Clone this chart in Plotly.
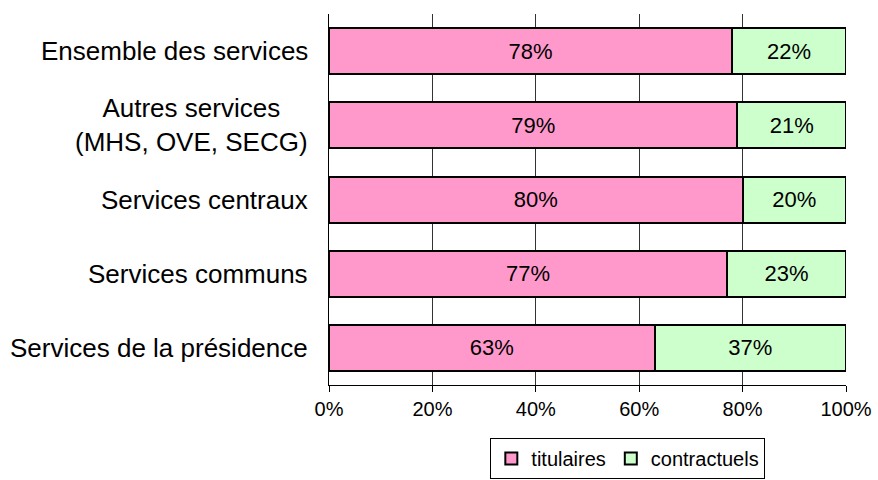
import plotly.graph_objects as go

categories = ["Ensemble des services", "Autres services<br>(MHS, OVE, SECG)",
              "Services centraux", "Services communs", "Services de la présidence"]
titulaires = [78, 79, 80, 77, 63]
contractuels = [22, 21, 20, 23, 37]
x_ticks = [0, 20, 40, 60, 80, 100]
x_tick_labels = ["0%", "20%", "40%", "60%", "80%", "100%"]

FONT = "Liberation Sans, Arial, sans-serif"

fig = go.Figure()
fig.add_trace(go.Bar(
    y=categories, x=titulaires, orientation="h", name="titulaires",
    marker=dict(color="#FF99CC", line=dict(color="black", width=2)),
    text=[f"{v}%" for v in titulaires], textposition="inside",
    insidetextanchor="middle", textfont=dict(size=22, color="black", family=FONT),
    hoverinfo="skip",
))
fig.add_trace(go.Bar(
    y=categories, x=contractuels, orientation="h", name="contractuels",
    marker=dict(color="#CCFFCC", line=dict(color="black", width=2)),
    text=[f"{v}%" for v in contractuels], textposition="inside",
    insidetextanchor="middle", textfont=dict(size=22, color="black", family=FONT),
    hoverinfo="skip",
))

annotations = [
    dict(x=0, xref="paper", y=c, yref="y", text=c, showarrow=False,
         xanchor="right", align="center", xshift=-19,
         font=dict(size=26, color="black", family=FONT))
    for c in categories
]

fig.update_layout(
    width=878, height=480,
    barmode="stack", bargap=0.38,
    margin=dict(l=329, r=32, t=14, b=95, autoexpand=False),
    paper_bgcolor="white", plot_bgcolor="white",
    font=dict(family=FONT, color="black"),
    showlegend=True,
    legend=dict(orientation="h", x=0.578, xanchor="center", y=-0.143, yanchor="top",
                bordercolor="black", borderwidth=1, font=dict(size=20, color="black"),
                traceorder="normal", itemclick=False, itemdoubleclick=False),
    annotations=annotations,
    xaxis=dict(range=[0, 100], tickvals=x_ticks, ticktext=x_tick_labels,
               showgrid=True, gridcolor="#333", gridwidth=1,
               showline=True, linecolor="black", linewidth=1,
               ticks="outside", ticklen=6, tickcolor="black",
               tickfont=dict(size=20, color="black"), zeroline=False, fixedrange=True),
    yaxis=dict(autorange="reversed", showticklabels=False, showgrid=False,
               showline=True, linecolor="black", linewidth=1, ticks="",
               zeroline=False, fixedrange=True),
)

fig.write_html("out.html", config={"displayModeBar": False},
               post_script="document.body.style.margin='0';")
